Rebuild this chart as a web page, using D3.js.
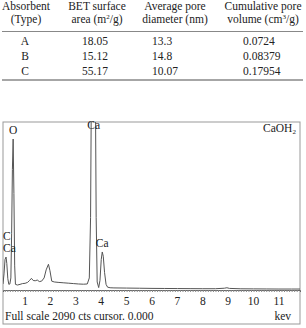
<!DOCTYPE html>
<html>
<head>
<meta charset="utf-8">
<script src="https://cdn.jsdelivr.net/npm/d3@7"></script>
<style>
  body { margin: 0; background: #fff; }
  svg text { font-family: "Liberation Serif", "Times New Roman", Times, "DejaVu Serif", serif; fill: #222; }
</style>
</head>
<body>
<div id="root"></div>
<script>
// table data
var headers = [
    ["Absorbent", "(Type)"],
    ["BET surface", "area (m|2|/g)"],
    ["Average pore", "diameter (nm)"],
    ["Cumulative pore", "volume (cm|3|/g)"]
];
var types = ["A", "B", "C"];
var betArea = ["18.05", "15.12", "55.17"];
var poreDiam = ["13.3", "14.8", "10.07"];
var poreVol = ["0.0724", "0.08379", "0.17954"];

// EDS spectrum (keV, counts)
var energy = [0.13, 0.17, 0.21, 0.25, 0.28, 0.32, 0.36, 0.40, 0.44, 0.47, 0.50, 0.53, 0.56, 0.59, 0.62,
    0.70, 0.80, 0.90, 1.00, 1.10, 1.18, 1.25, 1.32, 1.40, 1.48, 1.56, 1.65, 1.75, 1.83, 1.92, 1.98, 2.05,
    2.15, 2.30, 2.50, 2.70, 2.90, 3.10, 3.30, 3.45, 3.53, 3.58, 3.62, 3.76, 3.80, 3.84, 3.90, 3.95, 4.00,
    4.04, 4.08, 4.13, 4.19, 4.25, 4.35, 4.5, 5.0, 5.5, 6.0, 6.5, 7.0, 7.5, 8.0, 8.5, 8.85, 8.95, 9.05,
    9.5, 10.0, 10.5, 11.0, 11.5, 11.83];
var counts = [75, 200, 380, 410, 330, 140, 70, 75, 150, 700, 1500, 1878, 1200, 300, 70,
    62, 70, 80, 83, 95, 120, 145, 118, 115, 124, 105, 110, 150, 250, 320, 240, 110,
    100, 95, 90, 85, 80, 75, 72, 75, 150, 900, 3000, 3000, 900, 100, 30, 120, 380,
    473, 420, 220, 70, 35, 28, 26, 24, 22, 20, 19, 18, 17, 16, 16, 22, 28, 20,
    15, 14, 13, 12, 12, 12];
var xTicks = [1, 2, 3, 4, 5, 6, 7, 8, 9, 10, 11];
var peakLabels = [
    { kev: 0.53, cts: 1878, text: "O" },
    { kev: 3.70, cts: 1940, text: "Ca" },
    { kev: 4.04, cts: 473, text: "Ca" }
];
var fullScale = 2090;
var fs = 11.5;

var svg = d3.select("#root").append("svg")
    .attr("width", 306).attr("height", 328)
    .attr("font-family", "'Liberation Serif', 'Times New Roman', Times, serif");

// ---- table ----
var colCenter = [26, 97, 175, 263];
var colLeft = [null, 82, 152, 243];

headers.forEach(function (h, i) {
    h.forEach(function (line, j) {
        var t = svg.append("text")
            .attr("x", colCenter[i]).attr("y", 10 + j * 13)
            .attr("text-anchor", "middle")
            .attr("font-size", fs);
        var parts = line.split("|");
        t.append("tspan").text(parts[0]);
        if (parts.length > 1) {
            t.append("tspan").attr("font-size", 7).attr("dy", -4).text(parts[1]);
            t.append("tspan").attr("dy", 4).text(parts[2]);
        }
    });
});

svg.append("line").attr("x1", 2).attr("x2", 303).attr("y1", 31.5).attr("y2", 31.5)
    .attr("stroke", "#888").attr("stroke-width", 1);
svg.append("line").attr("x1", 2).attr("x2", 303).attr("y1", 80).attr("y2", 80)
    .attr("stroke", "#888").attr("stroke-width", 1.5);

var rowY = d3.scaleBand().domain(types).range([32, 77]);
var cols = [types, betArea, poreDiam, poreVol];
cols.forEach(function (col, i) {
    svg.append("g").selectAll("text")
        .data(col)
        .enter().append("text")
        .attr("x", i == 0 ? 25 : colLeft[i])
        .attr("y", function (d, k) { return rowY(types[k]) + 12.5; })
        .attr("text-anchor", i == 0 ? "middle" : "start")
        .attr("font-size", fs)
        .text(function (d) { return d; });
});

// ---- spectrum ----
var x = d3.scaleLinear().domain([0.13, 11.83]).range([3, 300]);
var y = d3.scaleLinear().domain([0, fullScale]).range([290, 122]);

svg.append("rect").attr("x", 3).attr("y", 122).attr("width", 297).attr("height", 202)
    .attr("fill", "none").attr("stroke", "#999").attr("stroke-width", 1);

svg.append("defs").append("clipPath").attr("id", "plotclip")
    .append("rect").attr("x", 3).attr("y", 122).attr("width", 297).attr("height", 168);

var line = d3.line()
    .x(function (d, i) { return x(energy[i]); })
    .y(function (d) { return y(d); });

svg.append("path")
    .datum(counts)
    .attr("clip-path", "url(#plotclip)")
    .attr("fill", "none")
    .attr("stroke", "#555")
    .attr("stroke-width", 1)
    .attr("d", line);

// baseline axis with minor ticks
var axis = d3.axisBottom(x)
    .tickValues(d3.range(2, 118).map(function (v) { return v / 10; }))
    .tickSize(2)
    .tickFormat("");
var ax = svg.append("g").attr("transform", "translate(0,290)").call(axis);
ax.select(".domain").attr("stroke", "#666");
ax.selectAll(".tick line").attr("stroke", "#888");

svg.append("g").selectAll("text")
    .data(xTicks)
    .enter().append("text")
    .attr("x", function (d) { return x(d); })
    .attr("y", 305)
    .attr("text-anchor", "middle")
    .attr("font-size", fs)
    .text(function (d) { return d; });

// peak labels
svg.append("g").selectAll("text")
    .data(peakLabels)
    .enter().append("text")
    .attr("x", function (d) { return x(d.kev); })
    .attr("y", function (d) { return y(d.cts) - 5; })
    .attr("text-anchor", "middle")
    .attr("font-size", fs)
    .text(function (d) { return d.text; });

svg.append("text").attr("x", 3).attr("y", 240).attr("font-size", fs).text("C");
svg.append("text").attr("x", 3).attr("y", 252).attr("font-size", fs).text("Ca");

var lab = svg.append("text").attr("x", 263).attr("y", 132).attr("font-size", fs);
lab.append("tspan").text("CaOH");
lab.append("tspan").attr("font-size", 7).attr("dy", 2).text("2");

svg.append("text").attr("x", 5).attr("y", 320).attr("font-size", fs)
    .text("Full scale " + fullScale + " cts cursor. 0.000");
svg.append("text").attr("x", 291).attr("y", 320).attr("text-anchor", "end")
    .attr("font-size", fs).text("kev");
</script>
</body>
</html>
